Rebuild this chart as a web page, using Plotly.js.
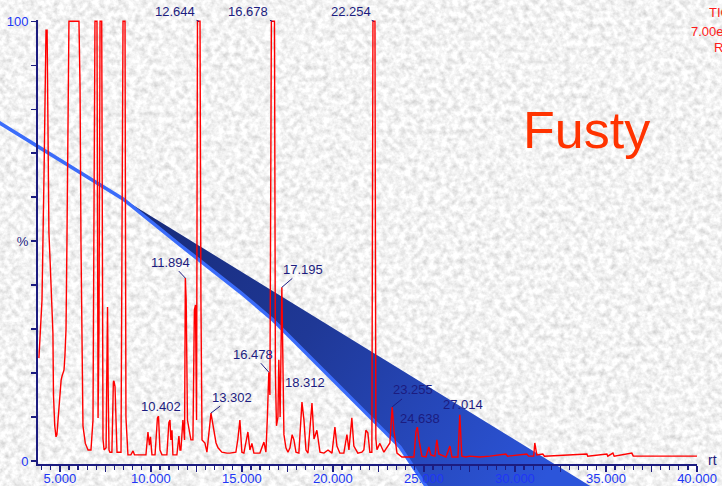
<!DOCTYPE html>
<html><head><meta charset="utf-8">
<script src="https://cdn.plot.ly/plotly-3.0.1.min.js"></script>
<style>
html,body{margin:0;padding:0;width:722px;height:486px;overflow:hidden;background:#e4e4e4;}
#bg{position:absolute;left:0;top:0;}
#chart{position:absolute;left:0;top:0;width:722px;height:486px;}
</style></head><body>
<svg id="bg" width="722" height="486">
<defs>
<filter id="granite" x="0" y="0" width="100%" height="100%">
<feTurbulence type="fractalNoise" baseFrequency="0.17" numOctaves="3" seed="7"/>
<feColorMatrix type="matrix" values="0.62 0 0 0 0.585  0.62 0 0 0 0.585  0.62 0 0 0 0.585  0 0 0 0 1"/>
</filter>
<linearGradient id="wedgeGrad" gradientUnits="userSpaceOnUse" x1="123" y1="199" x2="540" y2="486">
<stop offset="0" stop-color="#172a78"/>
<stop offset="0.45" stop-color="#1f3896"/>
<stop offset="1" stop-color="#2c55da"/>
</linearGradient>
</defs>
<rect width="722" height="486" filter="url(#granite)"/>
<polygon points="123,199 600,492 428,492 400,447 340,387 273,320 240,292 180,245" fill="url(#wedgeGrad)"/>
<polyline points="-5,120 123,199 180,245 240,292 273,320 340,387 400,447 430,492" fill="none" stroke="#3b6cfa" stroke-width="3.5"/>
</svg>
<div id="chart"></div>
<script>
// Retention time (min) and relative intensity (%)
const rt = [3.85,4.02,4.13,4.24,4.30,4.35,4.40,4.46,4.52,4.57,4.62,4.65,4.72,4.79,4.84,4.90,5.01,5.07,5.12,5.18,5.23,5.28,5.34,5.39,5.45,5.50,
6.05,6.11,6.16,6.21,6.27,6.40,6.55,6.71,6.82,6.88,6.93,7.04,7.10,7.15,7.21,7.30,7.37,7.43,7.54,7.58,7.62,7.66,7.70,7.75,7.86,7.94,7.97,8.03,8.10,8.14,
8.36,8.42,8.47,8.58,8.63,8.74,8.90,9.02,9.10,9.73,9.84,9.92,9.98,10.06,10.23,10.36,10.42,10.50,10.61,10.88,10.99,11.05,11.10,11.16,11.21,
11.43,11.54,11.60,11.65,11.76,11.82,11.85,11.894,11.94,12.01,12.09,12.20,12.31,12.39,12.45,12.51,12.56,12.70,12.75,12.81,12.97,13.08,13.302,13.41,
13.58,13.69,13.90,14.18,14.34,14.67,14.78,14.89,15.00,15.11,15.33,15.44,15.55,15.66,15.99,16.21,16.32,16.40,16.478,16.54,16.62,16.79,16.84,16.90,
16.98,17.03,17.10,17.195,17.25,17.31,17.42,17.53,17.64,17.76,17.86,17.97,18.13,18.30,18.41,18.52,18.63,18.85,18.96,19.12,19.29,19.51,19.73,19.95,
20.11,20.22,20.38,20.60,20.77,20.88,21.04,21.15,21.37,21.59,21.70,21.81,21.92,22.03,22.14,22.20,22.31,22.36,22.42,22.58,22.80,22.97,23.13,23.255,
23.35,23.52,23.79,24.12,24.45,24.56,24.638,24.72,24.89,25.11,25.27,25.38,25.60,25.71,25.82,26.21,26.43,26.54,26.87,26.97,27.08,27.30,27.52,28.07,
28.62,29.50,29.60,30.65,30.75,31.03,31.09,31.20,31.53,31.62,33.95,34.00,35.05,35.10,35.38,35.45,36.42,36.50,40.00];
const intensity = [23.4,36.6,65,98,98,70,52,46,40,32,29,15,8,5.5,6,9.3,16,18.4,19.3,20.4,20.7,24,30,50,75,100,
100,85,50,20,8,4,2.5,2.5,9.3,60,100,100,9.8,30,100,100,5,2.5,3,20,35,15,2.5,2,2,18,18.2,17,5,2,
2,50,100,100,10,1.4,1.4,2.3,1.4,1.4,6.6,3.6,5.5,1.4,1.4,9.8,10.2,2.5,1.4,1.4,8.8,9.3,4.8,7,1.4,
1.4,5.7,2.5,2.5,9.3,4.8,4.8,41.6,36.6,9.3,7,4.8,4.8,34.3,35.5,9.3,100,100,36.6,4.8,4.1,2,10.9,8.6,
4.1,3,2,1.8,1.8,2,5,9.3,2,1.8,6.6,2.5,4,1.8,1.8,4.3,2,10,20.2,15,100,100,20,8,
10,23,10,39.5,15,6,3,2,3,6,4.8,2,1.8,13.4,9.3,2.5,1.8,13.2,5,7,2,1.8,2.5,1.8,
7.7,3.4,1.8,1.8,6,2.5,9.8,3.4,1.8,2,2.5,7,6.4,2,2,100,100,5,2.6,4,2,3.2,4.1,12.3,
7,1.8,0.9,0.9,0.9,6.6,7.7,5,1.1,0.9,3.2,1.4,1.1,4.8,1.6,0.9,3.4,0.9,0.9,10.5,1.1,0.9,1.1,0.9,
1.1,1.6,1.1,1.6,1.1,1.1,4.1,1.4,1.6,1.1,1.6,1.1,1.6,1.1,1.8,1.1,1.8,1.1,1.1];

// Labelled peaks
const arrowLabels = ["12.644","16.678","22.254","11.894","17.195","16.478","13.302","23.255"];
const plainLabels = ["10.402","18.312","24.638","27.014"];

// X tick labels
const xTickVals = [5,7.5,10,12.5,15,17.5,20,22.5,25,27.5,30,32.5,35,37.5,40];
const xTickText = ["5.000","","10.000","","15.000","","20.000","","25.000","","30.000","","35.000","","40.000"];
const yTickVals = [0,10,20,30,40,50,60,70,80,90,100];
const yTickText = ["0","","","","",'<span style="color:#1c1c80">%</span>',"","","","","100"];

// Header text
const headerLines = ["TIC","7.00e8","RT"];
const sampleName = "Fusty";

// ---- layout (positions/styles) ----
const arrowOffsets = [[-24,-10],[-24,-10],[-23,-10],[-15,-16],[21,-18],[-16,-18],[21,-16],[21,-17]];
const plainShifts = [[3,10],[3,20],[3,9],[2,10]];

function peakHeight(t){
  let m = 0;
  for (let i=0;i<rt.length;i++){ if (Math.abs(rt[i]-t) <= 0.1 && intensity[i] > m) m = intensity[i]; }
  return m;
}

const navy = '#1c1c80';
const annotations = [];
arrowLabels.forEach((lab,i)=>{
  const t = parseFloat(lab);
  annotations.push({x:t, y:peakHeight(t), xref:'x', yref:'y', text:lab, showarrow:true,
    arrowhead:0, arrowwidth:1, arrowcolor:navy, ax:arrowOffsets[i][0], ay:arrowOffsets[i][1], standoff:0,
    font:{size:13, color:navy}});
});
plainLabels.forEach((lab,i)=>{
  const t = parseFloat(lab);
  annotations.push({x:t, y:peakHeight(t), xref:'x', yref:'y', text:lab, showarrow:false,
    xshift:plainShifts[i][0], yshift:plainShifts[i][1], font:{size:13, color:navy}});
});
const hdrPos = [[1.0152,1.018],[0.9879,0.975],[1.0228,0.939]];
headerLines.forEach((h,i)=>{
  annotations.push({x:hdrPos[i][0], y:hdrPos[i][1], xref:'paper', yref:'paper', text:h, showarrow:false,
    xanchor:'left', yanchor:'middle', font:{size:13, color:'#ff1a1a'}});
});
annotations.push({x:0.8316, y:0.752, xref:'paper', yref:'paper', text:sampleName, showarrow:false,
  xanchor:'center', yanchor:'middle', font:{size:52, color:'#ff3300'}});
annotations.push({x:1.0228, y:0.008, xref:'paper', yref:'paper', text:'rt', showarrow:false,
  xanchor:'center', yanchor:'middle', font:{size:14, color:navy}});

const trace = {x:rt, y:intensity, type:'scatter', mode:'lines',
  line:{color:'#ff0000', width:1.4}, hoverinfo:'skip'};

const layout = {
  width:722, height:486,
  margin:{l:38, r:25, t:20, b:22},
  paper_bgcolor:'rgba(0,0,0,0)', plot_bgcolor:'rgba(0,0,0,0)',
  showlegend:false,
  font:{family:'Arial, "Liberation Sans", sans-serif', size:13, color:navy},
  xaxis:{range:[3.8,40], showgrid:false, zeroline:false, showline:true, linecolor:navy, linewidth:2,
    ticks:'outside', ticklen:6, tickwidth:1.5, tickcolor:navy, tickvals:xTickVals, ticktext:xTickText,
    ticklabelstandoff:-5,
    tickfont:{size:13, color:'#2036f5'},
    minor:{dtick:0.5, tick0:0, ticks:'outside', ticklen:4, tickwidth:1.2, tickcolor:navy, showgrid:false}},
  yaxis:{range:[-0.68,100.3], showgrid:false, zeroline:false, showline:true, linecolor:navy, linewidth:2,
    ticks:'outside', ticklen:5, tickwidth:1.5, tickcolor:navy, tickvals:yTickVals, ticktext:yTickText,
    tickfont:{size:13, color:'#2036f5'}},
  annotations:annotations
};
Plotly.newPlot('chart', [trace], layout, {displayModeBar:false, staticPlot:true});
</script>
</body></html>
